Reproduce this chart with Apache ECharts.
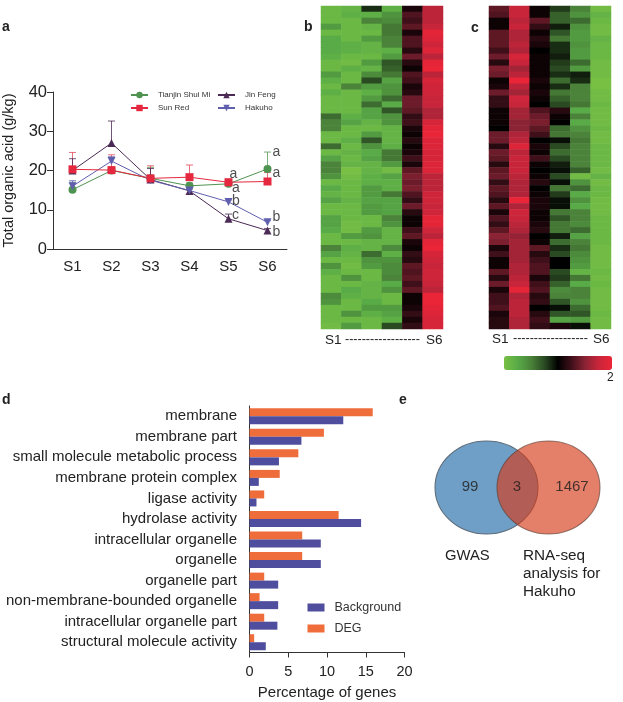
<!DOCTYPE html>
<html>
<head>
<meta charset="utf-8">
<title>chart</title>
<script src="https://cdn.jsdelivr.net/npm/echarts@6/dist/echarts.min.js"></script>
<style>
  html, body { margin: 0; padding: 0; background: #fff; }
  #chart { width: 623px; height: 702px; }
</style>
</head>
<body>
<div id="chart"></div>
<script>
// panel a
const stages = ["S1", "S2", "S3", "S4", "S5", "S6"];
const tianjin = [15.1, 20, 18, 16.1, 16.6, 20.4];
const tianjinHigh = [17, 20.6, 20.8, 16.8, 17.2, 24.7];
const sunRed = [20.3, 20.1, 18, 18.3, 17, 17.2];
const sunRedHigh = [24.6, 24, 21.2, 21.4, 17.8, 19.5];
const jinFeng = [20, 27, 17.7, 14.8, 7.7, 4.7];
const jinFengHigh = [23, 32.6, 20.5, 15.3, 8.9, 5.2];
const hakuho = [16, 22.4, 17.5, 14.9, 12, 6.8];
const hakuhoHigh = [17.4, 23.5, 18.5, 15.5, 12.5, 7.2];
const letterText = ["a", "a", "a", "a", "b", "b", "c", "b"];
const letterStage = [5, 5, 4, 4, 4, 5, 4, 5];
const letterValue = [24.6, 19.4, 19.1, 15.6, 12.1, 8, 8.7, 4.2];

// panels b and c, one array per column, top row first
const heatB1 = [-1.8, -1.8, -1.8, -1.3, -1.8, -1.5, -1.5, -1.5, -1.6, -1.8, -1.8, -1.3, -1.6, -1.8, -1.6, -1.8, -1.8, -1.8, -0.8, -1.0, -1.0, -1.8, -1.8, -0.8, -1.8, -1.4, -1.0, -1.0, -1.2, -1.8, -1.5, -1.7, -1.4, -1.8, -1.8, -1.4, -1.4, -1.5, -1.8, -1.8, -1.0, -1.4, -1.8, -1.2, -1.6, -1.8, -1.8, -1.8, -1.1, -1.2, -1.8, -1.8, -1.8, -1.9];
const heatB2 = [-1.7, -1.6, -1.8, -1.8, -1.8, -1.8, -1.6, -1.6, -1.8, -1.9, -1.6, -1.8, -1.8, -1.0, -1.8, -1.8, -1.8, -1.8, -1.6, -1.4, -1.8, -1.8, -1.6, -1.8, -1.7, -1.8, -1.7, -2, -1.9, -1.8, -1.8, -1.8, -1.7, -1.8, -1.8, -1.8, -1.9, -1.9, -1.3, -1.8, -1.6, -1.7, -1.8, -1.9, -1.8, -1.2, -1.8, -1.5, -1.6, -1.8, -1.8, -1.2, -1.8, -1.3];
const heatB3 = [-0.3, -1.6, -1.0, -1.7, -1.8, -1.3, -1.7, -1.7, -1.8, -1.3, -1.7, -1.1, -0.5, -1.3, -1.6, -1.3, -0.8, -1.4, -1.4, -1.7, -1.8, -1.3, -0.6, -1.2, -1.5, -1.4, -1.7, -1.7, -1.6, -1.6, -1.3, -1.3, -1.4, -1.3, -1.3, -1.8, -1.8, -1.3, -1.2, -1.7, -1.7, -0.8, -1.2, -1.3, -1.8, -1.8, -1.7, -1.7, -1.7, -1.5, -1.3, -1.6, -1.8, -1.8];
const heatB4 = [-1.6, -1.2, -1.1, -0.9, -0.9, -1.0, -1.0, -1.6, -1.3, -0.6, -0.7, -0.9, -1.4, -1.2, -1.2, -0.8, -1.5, -0.6, -1.2, -1.2, -1.7, -1.7, -1.7, -1.6, -0.9, -0.9, -1.3, -1.9, -1.4, -1.6, -1.6, -0.9, -1.4, -1.4, -1.4, -1.0, -1.2, -1.7, -1.7, -1.7, -1.1, -1.6, -1.2, -1.1, -1.1, -1.0, -1.5, -1.2, -1.8, -1.8, -1.3, -1.4, -1.6, -0.5];
const heatB5 = [0.2, 0.6, 0.5, 0.7, 0.2, 0.6, 0.6, 0.3, 0.8, 0.3, 0.1, 0.6, 0.5, 0.2, 0.3, 0.8, 0.8, 0.7, 0.4, 0.5, 0.2, 0.1, 0.3, 0.1, 0.2, 0.5, 0.2, 0.7, 0.9, 0.8, 0.9, 0.6, 0.4, 0.8, 0.3, 0.1, 0.1, 0.5, 0.7, 0.2, 0.1, 0.4, 0.3, 0.7, 0.6, 0.7, 0.5, 0.7, 0.1, 0.1, 0.2, 0.4, 0.2, 0.4];
const heatB6 = [1.4, 1.4, 1.4, 1.5, 1.9, 1.8, 1.6, 1.8, 1.4, 1.9, 2, 1.4, 1.7, 1.6, 1.6, 1.5, 1.5, 1.3, 1.3, 1.7, 1.9, 2, 1.8, 1.8, 1.7, 1.7, 1.8, 1.8, 1.4, 1.4, 1.4, 1.6, 1.6, 1.5, 1.6, 1.9, 1.9, 1.6, 1.4, 1.9, 2, 1.7, 1.6, 1.5, 1.6, 1.6, 1.5, 1.4, 2, 2, 1.9, 1.8, 1.7, 1.7];
const heatC1 = [0.7, 0.6, 0.1, 0.1, 0.7, 0.7, 0.7, 0.5, 0.8, 0.3, 0.9, 0.8, 0.1, 0.2, 0.8, 0.4, 0.4, 0.1, 0.1, 0.1, 0, 0.8, 0.8, 0.3, 0.8, 0.7, 0.3, 0.7, 0.8, 0.4, 0.7, 0.6, 0.3, 0.7, 0.2, 0.6, 0.4, 0.7, 1, 0.9, 0.2, 0.5, 0.1, 0.1, 0.7, 0.3, 0.8, 0.2, 0.5, 0.5, 0.6, 0.2, 0.3, 0.3];
const heatC2 = [1.5, 1.5, 1.4, 1.5, 1.3, 1.3, 1.4, 1.3, 1.7, 1.5, 1.2, 1.4, 2, 1.4, 1.2, 1.6, 1.5, 1.2, 1.2, 1, 1, 1.3, 1.4, 1.8, 1.4, 1.5, 1.5, 1.5, 1.4, 1.3, 1.3, 1.3, 2, 1.3, 1.6, 1.5, 1.4, 1.3, 1.1, 1.2, 1.2, 1.2, 1.2, 1.3, 1.3, 1.4, 1.5, 1.9, 1.3, 1.4, 1.4, 1.4, 1.3, 1.3];
const heatC3 = [0.1, 0.1, 0.7, 0.4, 0.1, 0.3, 0.2, 0, 0.1, 0.1, 0.1, 0.1, 0.2, 0.1, 0.2, 0.1, 0, 0.6, 0.8, 0.9, 0.7, 0.5, 0, 0.2, 0.1, 0.5, 0.1, 0, 0.1, 0.3, 0, 0.1, 0.2, 0.2, 0.1, 0.1, 0.2, 0.3, 0, 0.1, 0.7, 0.3, 0.5, 0.6, 0.6, 0.2, 0.5, 0.6, 0.3, 0.4, 0, 0.3, 0.5, 0.4];
const heatC4 = [-0.4, -0.7, -0.7, -0.2, -0.6, -0.9, -0.3, -0.3, -0.2, -0.4, -0.5, -0.3, -0.8, -0.3, -0.9, -0.7, -0.5, 0.3, 0.1, 0, -0.8, -0.9, -0.1, -0.5, -0.8, -0.5, -0.2, -0.1, -0.5, -0.1, -0.9, -0.4, -0.1, -0.1, -0.9, -0.6, -0.9, -0.9, -0.2, -0.8, -0.3, -0.5, 0, 0, -0.5, -0.4, -0.7, -1.1, -1, -0.6, -0.1, -0.6, -1.4, 0.2];
const heatC5 = [-1, -1.2, -0.8, -1.2, -1.3, -1.3, -1.2, -1.3, -1.3, -0.8, -1.3, -0.2, -0.3, -1, -1, -1, -0.9, -1.5, -1, -1.5, -1.2, -1, -0.9, -1, -1, -1, -1, -0.7, -1.9, -1.2, -0.8, -1.5, -1.2, -1.5, -1, -1, -1.1, -0.8, -1.4, -1, -0.9, -1.1, -1.2, -1.3, -1.7, -0.9, -1.5, -1, -1, -1.2, -0.8, -0.6, -1.3, -0.1];
const heatC6 = [-1.9, -1.7, -1.8, -1.9, -1.9, -1.7, -1.8, -1.8, -1.8, -1.9, -1.9, -1.9, -2, -2, -1.9, -1.9, -1.8, -1.9, -1.9, -1.9, -1.8, -1.9, -1.9, -1.8, -1.8, -1.8, -1.8, -1.9, -1.7, -1.9, -1.8, -1.8, -1.9, -1.9, -1.9, -1.8, -1.8, -1.8, -1.8, -1.8, -1.9, -1.9, -1.9, -1.9, -1.8, -1.9, -1.8, -1.9, -1.9, -1.9, -1.9, -1.8, -1.9, -1.9];

// panel d
const goTerms = ["membrane", "membrane part", "small molecule metabolic process", "membrane protein complex", "ligase activity", "hydrolase activity", "intracellular organelle", "organelle", "organelle part", "non-membrane-bounded organelle", "intracellular organelle part", "structural molecule activity"];
const degPct = [15.9, 9.6, 6.3, 3.9, 1.9, 11.5, 6.8, 6.8, 1.9, 1.3, 1.9, 0.6];
const backgroundPct = [12.1, 6.7, 3.8, 1.2, 0.9, 14.4, 9.2, 9.2, 3.7, 3.7, 3.6, 2.1];

// panel e
const vennCounts = ["99", "3", "1467"];

const FONT = '"Liberation Sans", Arial, sans-serif';
const INK = "#222";

function heatData(columns) {
  const out = [];
  columns.forEach((col, c) => col.forEach((v, r) => out.push([c, r, v])));
  return out;
}

function lineSeries(name, values, color, symbol, rotate) {
  return {
    name: name, type: "line", xAxisIndex: 0, yAxisIndex: 0, data: values,
    symbol: symbol, symbolSize: 8, symbolRotate: rotate || 0,
    lineStyle: { color: color, width: 1 }, itemStyle: { color: color }, z: 3,
  };
}

// upper error bars, only the stem and the cap
function errorSeries(values, highs, color) {
  return {
    type: "custom", xAxisIndex: 0, yAxisIndex: 0, z: 2,
    data: values.map((v, i) => [i, v, highs[i]]),
    renderItem: (params, api) => {
      const low = api.coord([api.value(0), api.value(1)]);
      const high = api.coord([api.value(0), api.value(2)]);
      const style = { stroke: color, lineWidth: 1, opacity: 0.8 };
      return {
        type: "group",
        children: [
          { type: "line", shape: { x1: low[0], y1: low[1], x2: high[0], y2: high[1] }, style: style },
          { type: "line", shape: { x1: high[0] - 3.5, y1: high[1], x2: high[0] + 3.5, y2: high[1] }, style: style },
        ],
      };
    },
  };
}

function heatSeries(axisIndex, columns) {
  return {
    type: "heatmap", xAxisIndex: axisIndex, yAxisIndex: axisIndex, data: heatData(columns),
    itemStyle: { borderWidth: 0 }, emphasis: { disabled: true },
  };
}

function hiddenCategory(data, gridIndex, inverse) {
  return { type: "category", data: data, gridIndex: gridIndex, inverse: !!inverse, show: false };
}

const rowIds = heatB1.map((v, i) => i);

// the letters next to S5 sit closer to their points than the S6 ones
const letterGap = (i) => (i === 2 ? 1 : letterStage[i] === 4 ? 3.5 : 5);

const series = [
  errorSeries(tianjin, tianjinHigh, "#5c9a5c"),
  errorSeries(sunRed, sunRedHigh, "#e5485a"),
  errorSeries(jinFeng, jinFengHigh, "#4b2a55"),
  errorSeries(hakuho, hakuhoHigh, "#6464b0"),
  lineSeries("Tianjin Shui Mi", tianjin, "#4f9350", "circle"),
  lineSeries("Jin Feng", jinFeng, "#4b2a55", "triangle"),
  lineSeries("Hakuho", hakuho, "#5f5fae", "triangle", 180),
  lineSeries("Sun Red", sunRed, "#e5283f", "rect"),
  {
    type: "scatter", xAxisIndex: 0, yAxisIndex: 0, symbolSize: 0, z: 5, silent: true,
    data: letterStage.map((s, i) => ({ value: [s, letterValue[i]], label: { distance: letterGap(i) } })),
    label: {
      show: true, position: "right", fontFamily: FONT, fontSize: 14, color: INK,
      formatter: (p) => letterText[p.dataIndex],
    },
  },
  heatSeries(1, [heatB1, heatB2, heatB3, heatB4, heatB5, heatB6]),
  heatSeries(2, [heatC1, heatC2, heatC3, heatC4, heatC5, heatC6]),
  {
    name: "DEG", type: "bar", xAxisIndex: 3, yAxisIndex: 3, data: degPct,
    barWidth: 8, barGap: 0, itemStyle: { color: "#ee6d3b" },
  },
  {
    name: "Background", type: "bar", xAxisIndex: 3, yAxisIndex: 3, data: backgroundPct,
    barWidth: 8, barGap: 0, itemStyle: { color: "#4f4e9e" },
  },
  // venn circles, scatter symbols drawn as ellipses on a hidden pixel scale
  {
    type: "scatter", xAxisIndex: 4, yAxisIndex: 4, data: [[66.5, 57.5]], symbolSize: [103, 93], z: 2,
    itemStyle: { color: "#6f9fc6", borderColor: "#5b6a78", borderWidth: 1, opacity: 1 },
  },
  {
    type: "scatter", xAxisIndex: 4, yAxisIndex: 4, data: [[128.5, 57.5]], symbolSize: [103, 93], z: 3,
    itemStyle: { color: "#d53b18", borderColor: "#5b3a30", borderWidth: 1, opacity: 0.65 },
  },
  {
    type: "scatter", xAxisIndex: 4, yAxisIndex: 4, symbolSize: 0, z: 5, silent: true,
    data: [[50, 57], [97, 57], [152, 57]],
    label: {
      show: true, position: "inside", fontFamily: FONT, fontSize: 15, color: "#1c1c1c",
      formatter: (p) => vennCounts[p.dataIndex],
    },
  },
];

function label(text, x, y, size, weight, align) {
  return {
    type: "text", silent: true,
    style: {
      text: text, x: x, y: y, fill: INK, textAlign: align || "left", textVerticalAlign: "middle",
      font: (weight || "normal") + " " + size + "px " + FONT,
    },
  };
}

const dashes = "------------------";

const option = {
  animation: false,
  backgroundColor: "#fff",
  textStyle: { fontFamily: FONT },
  grid: [
    { left: 50.5, top: 92, width: 236.5, height: 157 },
    { left: 321, top: 6, width: 122, height: 323 },
    { left: 489, top: 6, width: 122, height: 323 },
    { left: 249.5, top: 406, width: 155, height: 246.5 },
    { left: 420, top: 430, width: 200, height: 200 },
  ],
  xAxis: [
    {
      type: "category", gridIndex: 0, data: stages, boundaryGap: true,
      axisLine: { lineStyle: { color: "#333" } },
      axisTick: { alignWithLabel: true, length: 5, lineStyle: { color: "#333" } },
      axisLabel: { color: INK, fontSize: 15, margin: 10, interval: 0 },
      splitLine: { show: false },
    },
    hiddenCategory(stages, 1),
    hiddenCategory(stages, 2),
    {
      type: "value", gridIndex: 3, min: 0, max: 20, interval: 5,
      name: "Percentage of genes", nameLocation: "middle", nameGap: 33,
      nameTextStyle: { color: INK, fontSize: 15 },
      axisLine: { show: true, lineStyle: { color: "#333" } },
      axisTick: { show: true, length: 5, lineStyle: { color: "#333" } },
      axisLabel: { color: INK, fontSize: 14.5, margin: 12 },
      splitLine: { show: false },
    },
    { type: "value", gridIndex: 4, min: 0, max: 200, show: false, splitLine: { show: false } },
  ],
  yAxis: [
    {
      type: "value", gridIndex: 0, min: 0, max: 40, interval: 10,
      name: "Total organic acid (g/kg)", nameLocation: "middle", nameGap: 37,
      nameTextStyle: { color: INK, fontSize: 14.5 },
      axisLine: { show: true, lineStyle: { color: "#333" } },
      axisTick: { show: true, length: 6, lineStyle: { color: "#333" } },
      axisLabel: { color: INK, fontSize: 16.5, margin: 6 },
      splitLine: { show: false },
    },
    hiddenCategory(rowIds, 1, true),
    hiddenCategory(rowIds, 2, true),
    {
      type: "category", gridIndex: 3, data: goTerms, inverse: true,
      axisLine: { lineStyle: { color: "#333" } },
      axisTick: { alignWithLabel: true, length: 6, lineStyle: { color: "#333" } },
      axisLabel: { color: INK, fontSize: 15, margin: 12.5, interval: 0 },
    },
    { type: "value", gridIndex: 4, min: 0, max: 200, inverse: true, show: false, splitLine: { show: false } },
  ],
  legend: [
    {
      data: ["Tianjin Shui Mi", "Sun Red"], orient: "vertical", left: 130, top: 91, padding: 0,
      itemWidth: 17, itemHeight: 8, itemGap: 5, selectedMode: false,
      textStyle: { fontSize: 8, color: "#333", padding: [0, 0, 0, 5] },
    },
    {
      data: ["Jin Feng", "Hakuho"], orient: "vertical", left: 217, top: 91, padding: 0,
      itemWidth: 17, itemHeight: 8, itemGap: 5, selectedMode: false,
      textStyle: { fontSize: 8, color: "#333", padding: [0, 0, 0, 5] },
    },
    {
      data: ["Background", "DEG"], orient: "vertical", left: 307.5, top: 601, padding: 0,
      icon: "rect", itemWidth: 17, itemHeight: 8, itemGap: 8, selectedMode: false,
      textStyle: { fontSize: 12.5, color: "#333", padding: [0, 0, 0, 5] },
    },
  ],
  visualMap: {
    type: "continuous", seriesIndex: [9, 10], min: -2, max: 2, calculable: false,
    orient: "horizontal", left: 504, top: 356, itemWidth: 14, itemHeight: 108, padding: 0,
    text: null, hoverLink: false,
    inRange: {
      color: ["#78c044", "#58ab47", "#4a8339", "#2a4a22", "#000000", "#40101a", "#8a2334", "#c8253a", "#eb2538"],
    },
  },
  graphic: [
    label("a", 2, 27, 14, "bold"),
    label("b", 304, 27, 14, "bold"),
    label("c", 471, 28, 14, "bold"),
    label("d", 2, 400, 14, "bold"),
    label("e", 399, 400, 14, "bold"),
    label("S1", 325, 340, 13.5),
    label(dashes, 345, 340, 12.5),
    label("S6", 426, 340, 13.5),
    label("S1", 492, 339, 13.5),
    label(dashes, 513, 339, 12.5),
    label("S6", 593, 339, 13.5),
    label("2", 607, 378, 12),
    label("GWAS", 445, 556, 14.8),
    label("RNA-seq", 523, 556, 15.3),
    label("analysis for", 523, 574, 15.3),
    label("Hakuho", 523, 592, 15.3),
  ],
  series: series,
};

const chart = echarts.init(document.getElementById("chart"), null, { renderer: "canvas" });
chart.setOption(option);
</script>
</body>
</html>
